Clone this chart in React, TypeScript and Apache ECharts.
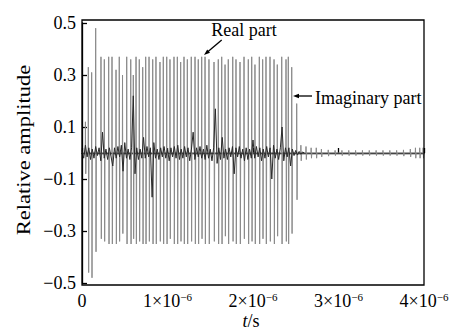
import React, { useEffect, useRef } from 'react';
import * as echarts from 'echarts';

// time axis in units of 1e-6 s
const xTicks = [0, 1, 2, 3, 4];
const yTicks = [-0.5, -0.3, -0.1, 0.1, 0.3, 0.5];

// Real part: pulse times (×1e-6 s), positive peaks, negative peaks (magnitudes)
const realT = [0.04, 0.074, 0.113, 0.160, 0.222, 0.261, 0.312, 0.351, 0.398, 0.436, 0.474, 0.523, 0.570, 0.600, 0.632, 0.670, 0.710, 0.745, 0.784, 0.827, 0.865, 0.912, 0.951, 0.991, 1.029, 1.076, 1.115, 1.154, 1.193, 1.232, 1.278, 1.322, 1.360, 1.400, 1.439, 1.485, 1.544, 1.594, 1.634, 1.673, 1.711, 1.763, 1.801, 1.848, 1.895, 1.945, 1.985, 2.023, 2.074, 2.113, 2.152, 2.199, 2.246, 2.284, 2.336, 2.386, 2.413, 2.453, 2.511];
const realUp = [0.12, 0.33, 0.31, 0.48, 0.37, 0.36, 0.37, 0.37, 0.32, 0.37, 0.30, 0.37, 0.36, 0.30, 0.37, 0.36, 0.33, 0.37, 0.37, 0.36, 0.37, 0.35, 0.37, 0.37, 0.36, 0.37, 0.37, 0.35, 0.37, 0.36, 0.37, 0.37, 0.36, 0.37, 0.37, 0.36, 0.35, 0.36, 0.37, 0.34, 0.36, 0.37, 0.36, 0.35, 0.37, 0.36, 0.37, 0.34, 0.37, 0.36, 0.37, 0.37, 0.36, 0.34, 0.37, 0.36, 0.37, 0.33, 0.19];
const realDown = [0.08, 0.46, 0.48, 0.38, 0.33, 0.34, 0.35, 0.35, 0.35, 0.34, 0.31, 0.35, 0.35, 0.33, 0.35, 0.34, 0.35, 0.35, 0.34, 0.35, 0.35, 0.34, 0.35, 0.35, 0.33, 0.35, 0.35, 0.34, 0.35, 0.35, 0.34, 0.35, 0.35, 0.33, 0.35, 0.35, 0.34, 0.35, 0.35, 0.32, 0.35, 0.34, 0.35, 0.35, 0.33, 0.35, 0.34, 0.35, 0.35, 0.33, 0.35, 0.34, 0.35, 0.32, 0.35, 0.34, 0.35, 0.31, 0.18];

// Real part: small residual ticks after the burst
const tailT = [2.56, 2.62, 2.68, 2.74, 2.80, 2.88, 2.96, 3.04, 3.12, 3.20, 3.28, 3.36, 3.44, 3.52, 3.60, 3.68, 3.76, 3.84, 3.90, 3.95, 3.99];
const tailAmp = [0.03, 0.025, 0.02, 0.02, 0.015, 0.012, 0.01, 0.01, 0.01, 0.01, 0.01, 0.01, 0.01, 0.01, 0.01, 0.01, 0.012, 0.015, 0.02, 0.02, 0.02];

// Imaginary part: sampled every 0.02 ×1e-6 s from 0
const imagStep = 0.02;
const imagVals = [
  0.01, -0.02, 0.03, -0.015, 0.02, -0.025, 0.015, -0.02, 0.025, -0.01,
  0.02, -0.03, 0.08, -0.02, 0.015, -0.025, 0.02, -0.015, -0.05, 0.02,
  -0.02, 0.025, -0.015, 0.03, -0.07, 0.04, -0.02, 0.015, -0.025, 0.02,
  0.22, -0.08, 0.02, -0.025, 0.015, -0.02, 0.06, -0.02, 0.025, -0.015,
  0.02, -0.17, 0.04, -0.02, 0.015, -0.025, 0.02, -0.015, 0.025, -0.02,
  0.015, -0.03, 0.02, -0.015, 0.025, -0.02, 0.03, -0.025, 0.015, -0.02,
  0.025, -0.015, 0.02, -0.03, 0.015, 0.08, -0.025, 0.02, -0.015, 0.025,
  -0.02, 0.015, -0.025, 0.03, -0.02, 0.015, -0.03, 0.02, 0.17, -0.04,
  0.02, -0.025, 0.06, -0.02, 0.015, -0.025, 0.02, -0.015, 0.025, -0.08,
  0.02, -0.015, 0.025, -0.02, 0.015, -0.03, 0.02, -0.025, 0.015, -0.02,
  0.05, -0.02, 0.025, -0.015, 0.02, -0.03, 0.015, -0.02, 0.025, -0.015,
  0.02, -0.1, 0.03, -0.02, 0.015, -0.025, 0.02, 0.1, -0.03, 0.02,
  -0.015, 0.02, -0.05, 0.015, -0.01, 0.01, -0.008, 0.006, -0.005, 0.004, 0
];

const FONT = 'Liberation Serif';

function buildReal(): number[][] {
  const d: number[][] = [[0, 0]];
  realT.forEach((t, i) => {
    d.push([t - 0.002, 0], [t, realUp[i]], [t + 0.004, -realDown[i]], [t + 0.008, 0]);
  });
  tailT.forEach((t, i) => {
    d.push([t - 0.002, 0], [t, tailAmp[i]], [t + 0.004, -tailAmp[i]], [t + 0.008, 0]);
  });
  d.push([4, 0]);
  return d;
}

function buildImag(): number[][] {
  return imagVals.map((v, i) => [i * imagStep, v]);
}

function fmtY(v: number): string {
  const s = Math.abs(v).toFixed(1);
  return v < 0 ? '\u2212' + s : s;
}

export default function App() {
  const ref = useRef<HTMLDivElement>(null);
  useEffect(() => {
    if (!ref.current) return;
    const chart = echarts.init(ref.current, undefined, { renderer: 'svg' });
    const gl = 82, gt = 23, gw = 342, gh = 260;
    chart.setOption({
      animation: false,
      backgroundColor: '#ffffff',
      textStyle: { fontFamily: FONT },
      grid: { left: gl, top: gt, width: gw, height: gh, containLabel: false },
      xAxis: {
        type: 'value',
        min: xTicks[0],
        max: xTicks[xTicks.length - 1],
        interval: 1,
        offset: 2,
        axisLine: { show: true, lineStyle: { color: '#000', width: 1.3 } },
        axisTick: { show: true, inside: true, length: 5, lineStyle: { color: '#000', width: 1.3 } },
        splitLine: { show: false },
        axisLabel: {
          margin: 6,
          fontFamily: FONT,
          fontSize: 18,
          color: '#000',
          formatter: (v: number) => (v === 0 ? '{a|0}' : `{a|${v}×10}{b|\u22126}`),
          rich: {
            a: { fontFamily: FONT, fontSize: 18, color: '#000', lineHeight: 20 },
            b: { fontFamily: FONT, fontSize: 11, color: '#000', verticalAlign: 'top', lineHeight: 12 },
          },
        },
      },
      yAxis: {
        type: 'value',
        min: yTicks[0],
        max: yTicks[yTicks.length - 1],
        interval: 0.2,
        axisLine: { show: true, lineStyle: { color: '#000', width: 1.3 } },
        axisTick: { show: true, inside: true, length: 5, lineStyle: { color: '#000', width: 1.3 } },
        splitLine: { show: false },
        axisLabel: {
          margin: 6,
          fontFamily: FONT,
          fontSize: 18,
          color: '#000',
          formatter: fmtY,
        },
      },
      series: [
        {
          name: 'Real part',
          type: 'line',
          data: buildReal(),
          showSymbol: false,
          symbol: 'none',
          lineStyle: { color: '#8a8a8a', width: 1 },
          z: 2,
        },
        {
          name: 'Imaginary part',
          type: 'line',
          data: buildImag(),
          showSymbol: false,
          symbol: 'none',
          lineStyle: { color: '#2a2a2a', width: 1 },
          z: 3,
        },
      ],
      graphic: [
        {
          type: 'rect',
          shape: { x: gl, y: 20, width: gw, height: 265 },
          style: { fill: 'none', stroke: '#000', lineWidth: 1.3 },
          z: 100,
          silent: true,
        },
        {
          type: 'text',
          x: 24,
          y: 150,
          rotation: Math.PI / 2,
          scaleX: 1.25,
          style: {
            text: 'Relative amplitude',
            fontFamily: FONT,
            fontSize: 18,
            fill: '#000',
            textAlign: 'center',
            textVerticalAlign: 'middle',
          },
          z: 100,
        },
        {
          type: 'text',
          x: 251,
          y: 321,
          style: {
            text: '{i|t}/s',
            fontFamily: FONT,
            fontSize: 18,
            fill: '#000',
            textAlign: 'center',
            textVerticalAlign: 'middle',
            rich: { i: { fontFamily: FONT, fontSize: 18, fontStyle: 'italic', fill: '#000' } },
          },
          z: 100,
        },
        {
          type: 'text',
          x: 244,
          y: 30,
          style: {
            text: 'Real part',
            fontFamily: FONT,
            fontSize: 18,
            fill: '#000',
            textAlign: 'center',
            textVerticalAlign: 'middle',
          },
          z: 100,
        },
        {
          type: 'line',
          shape: { x1: 221.7, y1: 40, x2: 207.5, y2: 52 },
          style: { stroke: '#000', lineWidth: 1.3 },
          z: 100,
        },
        {
          type: 'polygon',
          shape: { points: [[204, 55], [210.0, 52.8], [207.2, 49.4]] },
          style: { fill: '#000' },
          z: 100,
        },
        {
          type: 'text',
          x: 315,
          y: 98,
          style: {
            text: 'Imaginary part',
            fontFamily: FONT,
            fontSize: 18,
            fill: '#000',
            textAlign: 'left',
            textVerticalAlign: 'middle',
          },
          z: 100,
        },
        {
          type: 'line',
          shape: { x1: 312, y1: 96, x2: 298, y2: 96 },
          style: { stroke: '#000', lineWidth: 1.3 },
          z: 100,
        },
        {
          type: 'polygon',
          shape: { points: [[293, 96], [299, 93.8], [299, 98.2]] },
          style: { fill: '#000' },
          z: 100,
        },
      ],
    });
    return () => chart.dispose();
  }, []);
  return (
    <div
      ref={ref}
      style={{ position: 'fixed', left: 0, top: 0, width: 454, height: 332, background: '#fff' }}
    />
  );
}
